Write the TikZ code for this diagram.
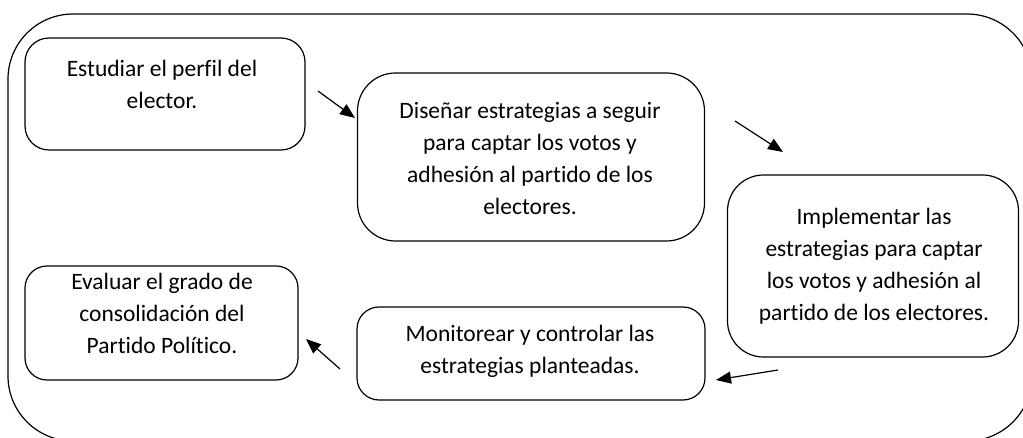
\documentclass[tikz,border=0pt]{standalone}
\usepackage{fontspec}
\setmainfont{Carlito}[Ligatures={NoCommon}]
\usetikzlibrary{arrows.meta}
\begin{document}
\begin{tikzpicture}[x=1pt,y=-1pt,
  box/.style={draw, line width=1.2pt, rounded corners=#1, rectangle, inner sep=0pt},
  txt/.style={align=center, inner sep=0pt, anchor=north, font=\fontsize{23.5}{32.2}\selectfont},
  arr/.style={line width=1.2pt, -{Triangle[length=15pt,width=12pt]}}]
\useasboundingbox (0,0) rectangle (1023,438);
\begin{scope}
\clip (0,0) rectangle (1023,438);
\draw[line width=1.2pt, rounded corners=65pt] (8,14) rectangle (1032,441);
\end{scope}
% boxes
\node[box=24pt, minimum width=280pt, minimum height=112pt] (b1) at (165,94) {};
\node[box=38pt, minimum width=347pt, minimum height=168pt] (b2) at (531,157) {};
\node[box=36pt, minimum width=291pt, minimum height=182pt] (b3) at (873,266) {};
\node[box=22pt, minimum width=348pt, minimum height=93pt] (b4) at (531,353.5) {};
\node[box=22pt, minimum width=273pt, minimum height=114pt] (b5) at (161.5,323) {};
% texts
\node[txt] (t1) at (162,{76-22.5}) {\strut Estudiar el perfil del\\\strut elector.};
\node[txt] (t2) at (530,{118-22.5}) {\strut Diseñar estrategias a seguir\\\strut para captar los votos y\\\strut adhesión al partido de los\\\strut electores.};
\node[txt] (t3) at (874,{224-22.5}) {\strut Implementar las\\\strut estrategias para captar\\\strut los votos y adhesión al\\\strut partido\ de los electores.};
\node[txt] (t4) at (530,{341-22.5}) {\strut Monitorear y controlar las\\\strut estrategias planteadas.};
\node[txt] (t5) at (162,{289-22.5}) {\strut Evaluar el grado de\\\strut consolidación del\\\strut Partido Político.};
% arrows
\coordinate (a1s) at (318,91); \coordinate (a1e) at (355,118);
\coordinate (a2s) at (735,121); \coordinate (a2e) at (783,152);
\coordinate (a3s) at (778,370); \coordinate (a3e) at (716,380);
\coordinate (a4s) at (340,369); \coordinate (a4e) at (306,339);
\draw[arr] (a1s) -- (a1e);
\draw[arr] (a2s) -- (a2e);
\draw[arr] (a3s) -- (a3e);
\draw[arr] (a4s) -- (a4e);
\end{tikzpicture}
\end{document}
